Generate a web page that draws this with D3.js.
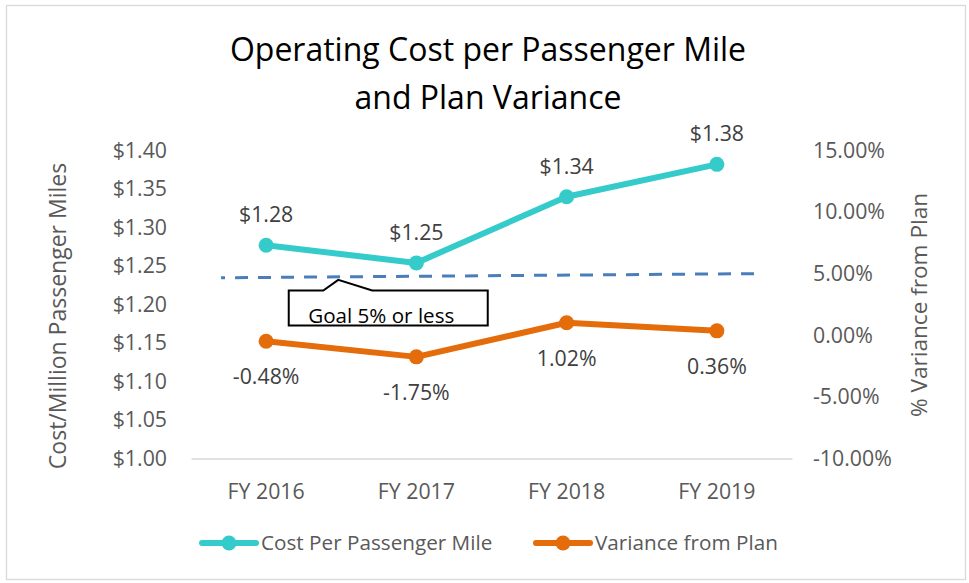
<!DOCTYPE html>
<html lang="en">
<head>
  <meta charset="UTF-8">
  <title>Operating Cost per Passenger Mile and Plan Variance</title>
  <script src="https://d3js.org/d3.v7.min.js"></script>
  <style>
    body {
      margin: 0;
      background-color: #ffffff;
      font-family: 'Open Sans', sans-serif;
    }
    #chart text {
      font-family: 'Open Sans', sans-serif;
    }
    .tick text {
      fill: #595959;
      font-size: 21.3px;
    }
  </style>
</head>
<body>
  <svg id="chart"></svg>

  <script>
    // values
    const years = ["FY 2016", "FY 2017", "FY 2018", "FY 2019"];
    const costPerMile = [1.277, 1.254, 1.340, 1.382];
    const costLabels = ["$1.28", "$1.25", "$1.34", "$1.38"];
    const variancePct = [-0.48, -1.75, 1.02, 0.36];
    const varianceLabels = ["-0.48%", "-1.75%", "1.02%", "0.36%"];
    const costTicks = [1.00, 1.05, 1.10, 1.15, 1.20, 1.25, 1.30, 1.35, 1.40];
    const pctTicks = [-10, -5, 0, 5, 10, 15];
    // goal line drawn as a shape: [category position, % value] at each end
    const goalLine = [[-0.30, 4.67], [3.31, 5.01]];
    const goalNote = "Goal 5% or less";

    const colours = {
      cost: "#36CBCB",
      variance: "#E46C0A",
      goal: "#4A7EBB",
      grid: "#D9D9D9",
      label: "#404040",
      axisText: "#595959"
    };

    function drawChart() {
      const width = 969;
      const height = 583;
      const margin = { top: 150.5, right: 177, bottom: 124.5, left: 191 };

      const svg = d3.select("#chart")
        .attr("width", width)
        .attr("height", height);

      // chart area border
      svg.append("rect")
        .attr("x", 6.5)
        .attr("y", 5.5)
        .attr("width", 959)
        .attr("height", 574)
        .attr("fill", "#fff")
        .attr("stroke", colours.grid)
        .attr("stroke-width", 1.3);

      const x = d3.scaleBand()
        .domain(years)
        .range([margin.left, width - margin.right]);
      const xAt = i => x(years[0]) + x.bandwidth() / 2 + i * x.step();

      const yLeft = d3.scaleLinear()
        .domain([1.0, 1.4])
        .range([height - margin.bottom, margin.top]);
      const yRight = d3.scaleLinear()
        .domain([-10, 15])
        .range([height - margin.bottom, margin.top]);

      // title
      const title = svg.append("text")
        .attr("x", 488)
        .attr("text-anchor", "middle")
        .attr("font-size", "32px")
        .attr("fill", "#000");
      title.append("tspan").attr("x", 488).attr("y", 60.5).text("Operating Cost per Passenger Mile");
      title.append("tspan").attr("x", 488).attr("y", 108.5).text("and Plan Variance");

      // axes (plain hyphen for negatives, like the original)
      const leftAxis = svg.append("g")
        .attr("transform", `translate(${margin.left},0)`)
        .call(d3.axisLeft(yLeft).tickValues(costTicks).tickSize(0).tickPadding(24)
          .tickFormat(d => "$" + d.toFixed(2)));
      leftAxis.select(".domain").remove();

      const rightAxis = svg.append("g")
        .attr("transform", `translate(${width - margin.right},0)`)
        .call(d3.axisRight(yRight).tickValues(pctTicks).tickSize(0).tickPadding(21)
          .tickFormat(d => d.toFixed(2) + "%"));
      rightAxis.select(".domain").remove();

      const bottomAxis = svg.append("g")
        .attr("transform", `translate(0,${height - margin.bottom})`)
        .call(d3.axisBottom(x).tickSize(0).tickPadding(25));
      bottomAxis.select(".domain")
        .attr("stroke", colours.grid)
        .attr("stroke-width", 1.5);
      bottomAxis.selectAll(".tick text").attr("font-size", "21px");

      // axis titles
      svg.append("text")
        .attr("transform", "translate(57,316) rotate(-90)")
        .attr("text-anchor", "middle")
        .attr("dominant-baseline", "central")
        .attr("font-size", "23px")
        .attr("fill", colours.axisText)
        .text("Cost/Million Passenger Miles");

      svg.append("text")
        .attr("transform", "translate(918,305) rotate(-90)")
        .attr("text-anchor", "middle")
        .attr("dominant-baseline", "central")
        .attr("font-size", "22.6px")
        .attr("fill", colours.axisText)
        .text("% Variance from Plan");

      // goal dashed line
      svg.append("line")
        .attr("x1", xAt(goalLine[0][0]))
        .attr("y1", yRight(goalLine[0][1]))
        .attr("x2", xAt(goalLine[1][0]))
        .attr("y2", yRight(goalLine[1][1]))
        .attr("stroke", colours.goal)
        .attr("stroke-width", 3)
        .attr("stroke-dasharray", "13 10")
        .attr("stroke-dashoffset", 9);

      // callout box pointing at the goal line
      const noteAt = 0.48;
      const t = (noteAt - goalLine[0][0]) / (goalLine[1][0] - goalLine[0][0]);
      const px = xAt(noteAt);
      const py = yRight(goalLine[0][1] + t * (goalLine[1][1] - goalLine[0][1])) + 3;
      const callout = d3.path();
      callout.moveTo(px - 49.5, py + 10.7);
      callout.lineTo(px - 15, py + 10.7);
      callout.lineTo(px, py);
      callout.lineTo(px + 34, py + 10.7);
      callout.lineTo(px + 149.5, py + 10.7);
      callout.lineTo(px + 149.5, py + 45.7);
      callout.lineTo(px - 49.5, py + 45.7);
      callout.closePath();
      svg.append("path")
        .attr("d", callout.toString())
        .attr("fill", "#fff")
        .attr("stroke", "#000")
        .attr("stroke-width", 2);
      svg.append("text")
        .attr("x", px - 30)
        .attr("y", py + 42.7)
        .attr("font-size", "20.6px")
        .attr("fill", "#000")
        .text(goalNote);

      // series
      const series = [
        { key: "cost", values: costPerMile, labels: costLabels, y: yLeft, above: true },
        { key: "variance", values: variancePct, labels: varianceLabels, y: yRight, above: false }
      ];

      series.forEach(s => {
        const pts = s.values.map((v, i) => [x(years[i]) + x.bandwidth() / 2, s.y(v)]);

        svg.append("path")
          .datum(pts)
          .attr("fill", "none")
          .attr("stroke", colours[s.key])
          .attr("stroke-width", 6)
          .attr("stroke-linejoin", "round")
          .attr("d", d3.line());

        svg.selectAll(`circle.${s.key}`)
          .data(pts)
          .join("circle")
          .attr("class", s.key)
          .attr("cx", d => d[0])
          .attr("cy", d => d[1])
          .attr("r", 7.5)
          .attr("fill", colours[s.key]);

        svg.selectAll(`text.${s.key}-label`)
          .data(pts)
          .join("text")
          .attr("class", `${s.key}-label`)
          .attr("x", d => d[0])
          .attr("y", d => s.above ? d[1] - 23 : d[1] + 43)
          .attr("text-anchor", "middle")
          .attr("font-size", "21.3px")
          .attr("fill", colours.label)
          .text((d, i) => s.labels[i]);
      });

      // legend
      const legendItems = [
        { name: "Cost Per Passenger Mile", colour: colours.cost, x: 202 },
        { name: "Variance from Plan", colour: colours.variance, x: 536 }
      ];
      const legendY = 543;
      const legend = svg.selectAll("g.legend")
        .data(legendItems)
        .join("g")
        .attr("class", "legend")
        .attr("transform", d => `translate(${d.x},${legendY})`);
      legend.append("line")
        .attr("x1", 0).attr("x2", 54)
        .attr("stroke", d => d.colour)
        .attr("stroke-width", 6)
        .attr("stroke-linecap", "round");
      legend.append("circle")
        .attr("cx", 27)
        .attr("r", 7.5)
        .attr("fill", d => d.colour);
      legend.append("text")
        .attr("x", 59)
        .attr("dy", "0.35em")
        .attr("font-size", "20.7px")
        .attr("fill", colours.axisText)
        .text(d => d.name);
    }

    drawChart();
  </script>
</body>
</html>
